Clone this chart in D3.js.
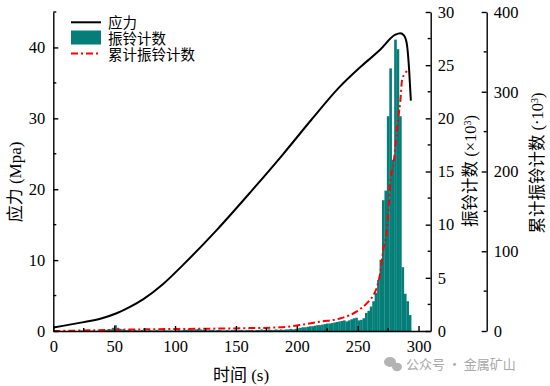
<!DOCTYPE html>
<html>
<head>
<meta charset="utf-8">
<script src="https://cdn.jsdelivr.net/npm/d3@7/dist/d3.min.js"></script>
<style>
	body { margin: 0; background: #fff; }
	.axis path, .axis line { stroke: #000; stroke-width: 1.4; }
</style>
</head>
<body>
<svg id="chart" width="550" height="386"></svg>
<script>
// stress curve (MPa)
const stressTime = [0, 25, 40, 52, 63, 74, 90, 107, 134, 162, 189, 212, 235, 252, 268, 281, 285, 288, 290.4, 292.3, 293.7]
const stressValue = [0.5, 1.25, 1.8, 2.5, 3.4, 4.5, 6.6, 9.4, 14.2, 19.6, 25.0, 29.8, 34.4, 37.2, 39.6, 41.8, 42.0, 41.7, 40.5, 36.8, 32.5]

// ring count per 2 s bin (x10^3), bins start at 0,2,4,...,292
const binWidth = 2
const ringCount = [
	0, 0, 0, 0, 0, 0, 0, 0, 0, 0,
	0, 0.05, 0, 0.05, 0, 0.05, 0.05, 0, 0.05, 0.1,
	0.1, 0.1, 0.15, 0.15, 0.3, 0.55, 0.3, 0.2, 0.15, 0.1,
	0.1, 0.1, 0.05, 0.1, 0.05, 0.05, 0.1, 0.05, 0.05, 0.1,
	0.05, 0.05, 0.1, 0.05, 0.05, 0.1, 0.05, 0.05, 0.05, 0.05,
	0.05, 0.1, 0.05, 0.1, 0.1, 0.15, 0.1, 0.1, 0.15, 0.2,
	0.15, 0.1, 0.1, 0.05, 0.1, 0.1, 0.05, 0.1, 0.1, 0.05,
	0.05, 0.1, 0.05, 0.1, 0.1, 0.05, 0.1, 0.1, 0.05, 0.1,
	0.1, 0.1, 0.05, 0.1, 0.1, 0.15, 0.1, 0.1, 0.15, 0.1,
	0.1, 0.15, 0.1, 0.15, 0.1, 0.15, 0.15, 0.2, 0.15, 0.2,
	0.25, 0.3, 0.35, 0.35, 0.4, 0.45, 0.45, 0.5, 0.55, 0.55,
	0.6, 0.65, 0.7, 0.7, 0.75, 0.8, 0.85, 0.9, 0.95, 1.0,
	0.9, 1.0, 1.1, 1.2, 1.25, 1.0, 1.05, 1.2, 1.7, 1.9,
	2.3, 2.8, 3.6, 4.8, 6.7, 12.3, 13.2, 20.2, 24.7, 16.1,
	27.4, 26.5, 20.2, 6.0, 3.5, 2.8, 1.5
]

// cumulative ring count (x10^3)
const cumTime = [0, 20, 50, 80, 120, 153, 186, 203, 219, 236, 249, 257.5, 263, 266, 268.5, 271, 274, 275.5, 277, 279.5, 282, 283.5, 285, 286.5, 288.5, 290.5]
const cumValue = [0, 0.5, 1.5, 2.2, 2.8, 3.4, 4.6, 7.5, 11.7, 15.9, 24.2, 34.7, 45.1, 55.6, 72.3, 101.6, 126.6, 156, 189, 210, 248, 268.7, 287.5, 315, 322, 326]

const xTicks = [0, 50, 100, 150, 200, 250, 300]
const stressTicks = [0, 10, 20, 30, 40]
const countTicks = [0, 5, 10, 15, 20, 25, 30]
const cumTicks = [0, 100, 200, 300, 400]

const svg = d3.select("#chart")
const plotLeft = 53.3, plotRight = 430.7, plotTop = 12, plotBottom = 331
const teal = "#047e78"
const latin = '"Liberation Serif", serif'
const cjk = '"Noto Sans CJK SC", sans-serif'

const x = d3.scaleLinear().domain([0, 310]).range([plotLeft, plotRight])
const yStress = d3.scaleLinear().domain([0, 45]).range([plotBottom, plotTop])
const yCount = d3.scaleLinear().domain([0, 30]).range([plotBottom, plotTop])
const yCum = d3.scaleLinear().domain([0, 400]).range([plotBottom, plotTop])

// bars
svg.append("g").selectAll("rect")
	.data(ringCount).enter().append("rect")
	.attr("x", (d, i) => x(i * binWidth))
	.attr("width", (d, i) => x((i + 1) * binWidth) - x(i * binWidth) + 0.2)
	.attr("y", d => yCount(d))
	.attr("height", d => plotBottom - yCount(d))
	.attr("fill", teal)

// cumulative
svg.append("path")
	.datum(cumTime.map((t, i) => [t, cumValue[i]]))
	.attr("d", d3.line().x(d => x(d[0])).y(d => yCum(d[1])).curve(d3.curveMonotoneX))
	.attr("fill", "none")
	.attr("stroke", "#ff0000")
	.attr("stroke-width", 2)
	.attr("stroke-dasharray", "7,3,2,3")

// stress
svg.append("path")
	.datum(stressTime.map((t, i) => [t, stressValue[i]]))
	.attr("d", d3.line().x(d => x(d[0])).y(d => yStress(d[1])).curve(d3.curveMonotoneX))
	.attr("fill", "none")
	.attr("stroke", "#000")
	.attr("stroke-width", 2)

// axes, ticks pointing into the plot
function minorTicks(g, scale, vals, vertical, len){
	g.selectAll("line.minor").data(vals).enter().append("line")
		.classed("minor", true)
		.attr("stroke", "#000").attr("stroke-width", 1.2)
		.attr("x1", d => vertical ? scale(d) : 0)
		.attr("x2", d => vertical ? scale(d) : len)
		.attr("y1", d => vertical ? 0 : scale(d))
		.attr("y2", d => vertical ? len : scale(d))
}

let gx = svg.append("g").classed("axis", true)
	.attr("transform", `translate(0,${plotBottom})`)
	.call(d3.axisBottom(x).tickValues(xTicks).tickSizeInner(-5).tickSizeOuter(0).tickPadding(9))
minorTicks(gx, x, [25, 75, 125, 175, 225, 275], true, -3)

let gl = svg.append("g").classed("axis", true)
	.attr("transform", `translate(${plotLeft},0)`)
	.call(d3.axisLeft(yStress).tickValues(stressTicks).tickSizeInner(-5).tickSizeOuter(0).tickPadding(8))
minorTicks(gl, yStress, [5, 15, 25, 35, 45], false, 3)

let gr = svg.append("g").classed("axis", true)
	.attr("transform", `translate(${plotRight},0)`)
	.call(d3.axisRight(yCount).tickValues(countTicks).tickSizeInner(-5).tickSizeOuter(0).tickPadding(7))
minorTicks(gr, yCount, [2.5, 7.5, 12.5, 17.5, 22.5, 27.5], false, -3)

let gc = svg.append("g").classed("axis", true)
	.attr("transform", "translate(486.7,0)")
	.call(d3.axisRight(yCum).tickValues(cumTicks).tickSizeInner(-5).tickSizeOuter(0).tickPadding(7))
minorTicks(gc, yCum, [50, 150, 250, 350], false, -3)

svg.selectAll(".axis").attr("font-family", latin)
svg.selectAll(".axis text").attr("font-size", 16.5).attr("fill", "#000")

// text made of a CJK part and a Latin part
function mixedText(el, parts){
	parts.forEach(p => {
		let ts = el.append("tspan").text(p[0])
			.style("font-family", p[1] == "c" ? cjk : latin)
		if (p[1] == "sup") ts.attr("baseline-shift", "super").attr("font-size", 10)
	})
}

// axis titles
let tl = svg.append("text")
	.attr("transform", "translate(21,182) rotate(-90)")
	.attr("text-anchor", "middle").attr("font-size", 17)
mixedText(tl, [["应力", "c"], [" (Mpa)", "l"]])

let tb = svg.append("text")
	.attr("x", 241).attr("y", 381)
	.attr("text-anchor", "middle").attr("font-size", 17)
mixedText(tb, [["时间", "c"], [" (s)", "l"]])

let t1 = svg.append("text")
	.attr("transform", "translate(476,171) rotate(-90)")
	.attr("text-anchor", "middle").attr("font-size", 16.5)
mixedText(t1, [["振铃计数", "c"], [" (×10", "l"], ["3", "sup"], [")", "l"]])

let t2 = svg.append("text")
	.attr("transform", "translate(543,163) rotate(-90)")
	.attr("text-anchor", "middle").attr("font-size", 16.5)
mixedText(t2, [["累计振铃计数", "c"], [" (·10", "l"], ["3", "sup"], [")", "l"]])

// legend
const legendLabels = ["应力", "振铃计数", "累计振铃计数"]
let lg = svg.append("g").classed("legend", true)
lg.selectAll("text").data(legendLabels).enter().append("text")
	.attr("x", 108)
	.attr("y", (d, i) => 27.5 + i * 16)
	.attr("font-size", 14.5)
	.style("font-family", cjk)
	.text(d => d)
lg.append("line").attr("x1", 71).attr("x2", 101).attr("y1", 22.3).attr("y2", 22.3)
	.attr("stroke", "#000").attr("stroke-width", 2)
lg.append("rect").attr("x", 71).attr("y", 30.5).attr("width", 30).attr("height", 14)
	.attr("fill", teal)
lg.append("line").attr("x1", 71).attr("x2", 101).attr("y1", 53.5).attr("y2", 53.5)
	.attr("stroke", "#ff0000").attr("stroke-width", 2).attr("stroke-dasharray", "7,3,2,3")

// watermark
let wm = svg.append("g").attr("fill", "#b4b4b4")
wm.append("ellipse").attr("cx", 390).attr("cy", 362).attr("rx", 6).attr("ry", 5)
wm.append("ellipse").attr("cx", 397).attr("cy", 367).attr("rx", 5).attr("ry", 4.2)
svg.append("text").attr("x", 406).attr("y", 369)
	.attr("font-size", 13)
	.style("font-family", cjk).style("fill", "#a8a8a8")
	.text("公众号 · 金属矿山")
</script>
</body>
</html>
